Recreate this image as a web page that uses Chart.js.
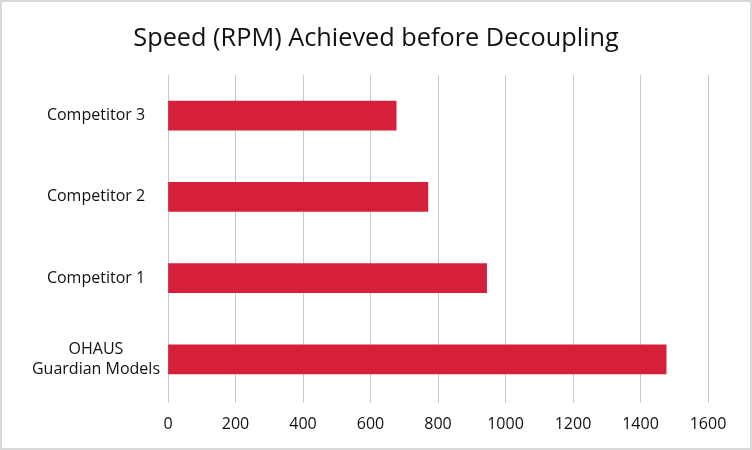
<!DOCTYPE html>
<html>
<head>
<meta charset="utf-8">
<script src="https://cdn.jsdelivr.net/npm/chart.js@4.4.1/dist/chart.umd.min.js"></script>
<style>
  html, body { margin: 0; padding: 0; background: #fff; }
  #wrap { position: relative; width: 752px; height: 450px; }
  #frame { position: absolute; left: 0; top: 0; width: 752px; height: 450px; box-sizing: border-box;
           border: 2px solid #d9d9d9; pointer-events: none; }
</style>
</head>
<body>
<div id="wrap">
  <canvas id="speedChart" width="752" height="450"></canvas>
  <div id="frame"></div>
</div>
<script>
// valeurs (tr/min)
const categories = ["Competitor 3", "Competitor 2", "Competitor 1", ["OHAUS", "Guardian Models"]];
const speeds = [676, 770, 944, 1476];
const xTicks = [0, 200, 400, 600, 800, 1000, 1200, 1400, 1600];

const BAR_RED = "#D6203A";
const FONT = "'Open Sans', sans-serif";

new Chart(document.getElementById("speedChart").getContext("2d"), {
  type: "bar",
  data: {
    labels: categories,
    datasets: [{
      data: speeds,
      backgroundColor: BAR_RED,
      borderWidth: 0,
      barThickness: 29,
    }],
  },
  options: {
    indexAxis: "y",
    responsive: false,
    animation: false,
    plugins: {
      legend: { display: false },
      tooltip: { enabled: false },
      title: {
        display: true,
        text: "Speed (RPM) Achieved before Decoupling",
        color: "#111",
        font: { family: FONT, size: 25.3, weight: "normal", lineHeight: 1.2 },
        padding: { top: 23.5, bottom: 21.1 },
      },
    },
    scales: {
      x: {
        min: 0, max: 1600,
        afterBuildTicks: (scale) => { scale.ticks = xTicks.map(v => ({ value: v })); },
        afterFit: (scale) => { scale.height = 50; },
        grid: { color: "#c8c8c8", lineWidth: 1, tickLength: 3 },
        border: { display: false },
        ticks: { color: "#111", padding: 12, font: { family: FONT, size: 16 }, callback: (v) => String(v) },
      },
      y: {
        afterFit: (scale) => { scale.width = 168; },
        grid: { display: false, drawTicks: false },
        border: { display: false },
        ticks: { color: "#111", crossAlign: "center", padding: 8, font: { family: FONT, size: 16, lineHeight: 1.25 } },
      },
      // axe vide à droite : garde la zone de tracé à 708px sans décaler le titre
      spacer: {
        type: "linear",
        position: "right",
        afterFit: (scale) => { scale.width = 44; },
        grid: { display: false, drawTicks: false },
        border: { display: false },
        ticks: { display: false },
      },
    },
  },
});
</script>
</body>
</html>
